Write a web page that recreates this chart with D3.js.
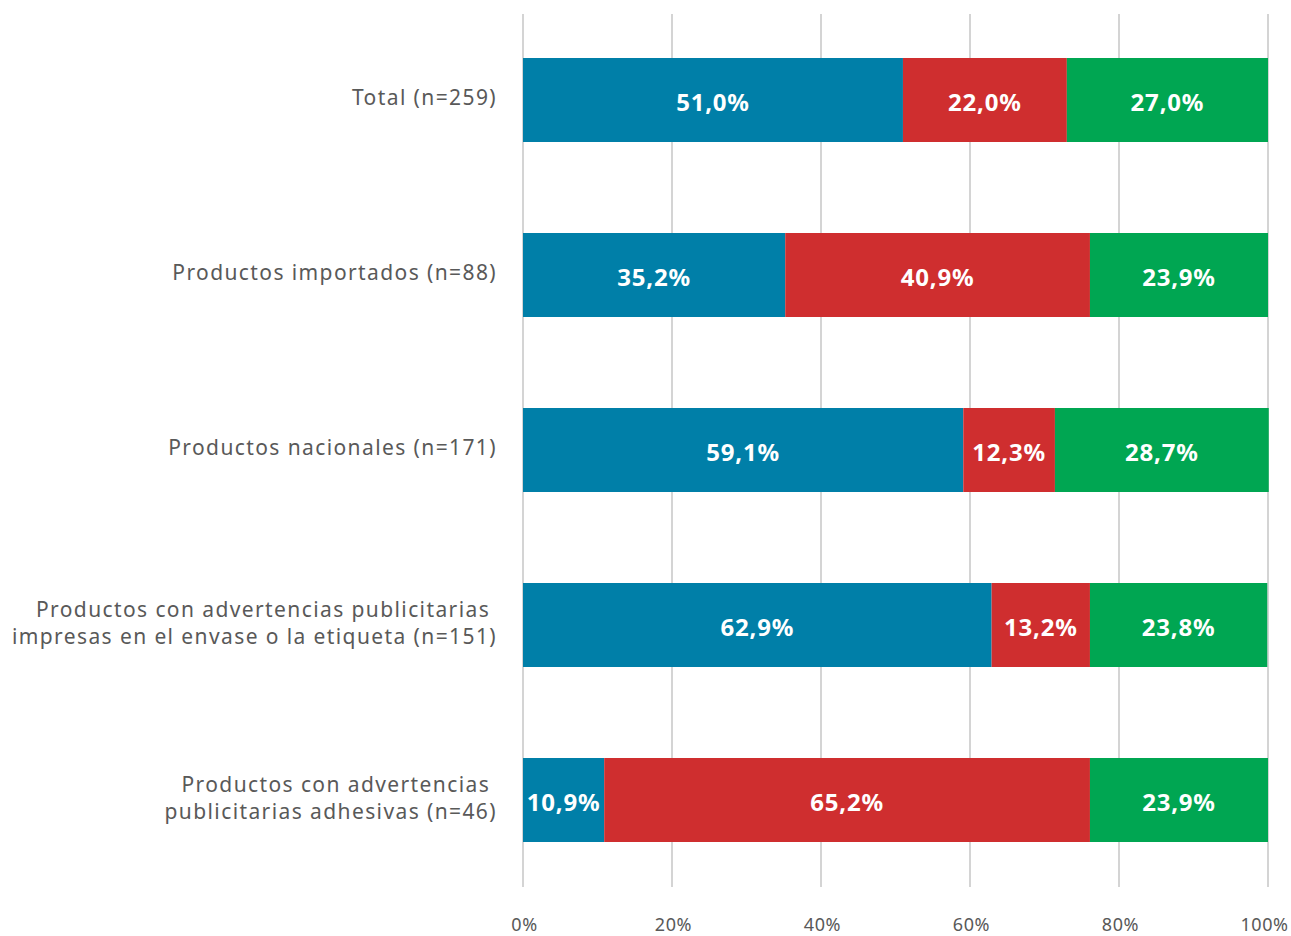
<!DOCTYPE html>
<html><head><meta charset="utf-8">
<script src="https://cdn.jsdelivr.net/npm/d3@7/dist/d3.min.js"></script>
<style>
html,body{margin:0;padding:0;background:#fff;}
svg{display:block;}
</style></head>
<body>
<svg id="chart" width="1291" height="936"></svg>
<script>
const categories = [
  ["Total (n=259)"],
  ["Productos importados (n=88)"],
  ["Productos nacionales (n=171)"],
  ["Productos con advertencias publicitarias ", "impresas en el envase o la etiqueta (n=151)"],
  ["Productos con advertencias ", "publicitarias adhesivas (n=46)"]
];
const seriesNames = ["Azul", "Rojo", "Verde"];
const blueValues = [51.0, 35.2, 59.1, 62.9, 10.9];
const redValues = [22.0, 40.9, 12.3, 13.2, 65.2];
const greenValues = [27.0, 23.9, 28.7, 23.8, 23.9];
const tickValues = [0, 20, 40, 60, 80, 100];
const tickLabels = ["0%", "20%", "40%", "60%", "80%", "100%"];
const colors = ["#007fa8", "#cf2e2f", "#00a652"];

const svg = d3.select("#chart");
const x = d3.scaleLinear().domain([0, 100]).range([523, 1268]);
const y = d3.scaleBand().domain(d3.range(categories.length)).range([12.5, 887.5]).paddingInner(0.52).paddingOuter(0.26);

// gridlines
svg.append("g").selectAll("line").data(tickValues).join("line")
  .attr("x1", d => x(d)).attr("x2", d => x(d))
  .attr("y1", 14).attr("y2", 887)
  .attr("stroke", "#d4d4d4").attr("stroke-width", 2);

// x axis labels
const xAxis = d3.axisBottom(x).tickValues(tickValues).tickFormat((d, i) => tickLabels[i]).tickSize(0).tickPadding(0);
const ax = svg.append("g").attr("transform", "translate(0,919)").call(xAxis);
ax.select(".domain").remove();
ax.selectAll("text").attr("font-family", "'Noto Sans', sans-serif").attr("font-size", 18)
  .attr("letter-spacing", 0.6).attr("fill", "#595959").attr("dy", "0.35em").attr("y", 6)
  .attr("dx", (d, i) => i === tickValues.length - 1 ? -4 : 1);

const series = [blueValues, redValues, greenValues];
const rows = categories.map((c, i) => {
  let acc = 0;
  return series.map((s, k) => { const r = {row: i, k, x0: acc, x1: acc + s[i], v: s[i]}; acc += s[i]; return r; });
});

const g = svg.append("g");
rows.forEach((segs, i) => {
  g.selectAll(null).data(segs).join("rect")
    .attr("x", d => x(d.x0)).attr("width", d => x(d.x1) - x(d.x0))
    .attr("y", y(i)).attr("height", y.bandwidth())
    .attr("fill", d => colors[d.k]);
  g.selectAll(null).data(segs).join("text")
    .attr("x", d => (x(d.x0) + x(d.x1)) / 2)
    .attr("y", y(i) + y.bandwidth() / 2 + 2)
    .attr("dy", "0.36em")
    .attr("text-anchor", "middle")
    .attr("font-family", "'Noto Sans', sans-serif").attr("font-weight", "bold").attr("font-size", 24)
    .attr("letter-spacing", 0.8)
    .attr("fill", "#fff")
    .text(d => d.v.toFixed(1).replace(".", ",") + "%");
});

// category labels
categories.forEach((lines, i) => {
  const cy = y(i) + y.bandwidth() / 2 - 2;
  const lh = 27;
  const t = svg.append("text")
    .attr("text-anchor", "end")
    .attr("font-family", "'Noto Sans', sans-serif").attr("font-size", 21)
    .attr("letter-spacing", 1.4)
    .attr("fill", "#595959")
    .style("white-space", "pre");
  lines.forEach((ln, j) => {
    t.append("tspan").attr("x", 497)
      .attr("y", cy - (lines.length - 1) * lh / 2 + j * lh)
      .attr("dy", "0.35em").text(ln);
  });
});
</script>
</body></html>
